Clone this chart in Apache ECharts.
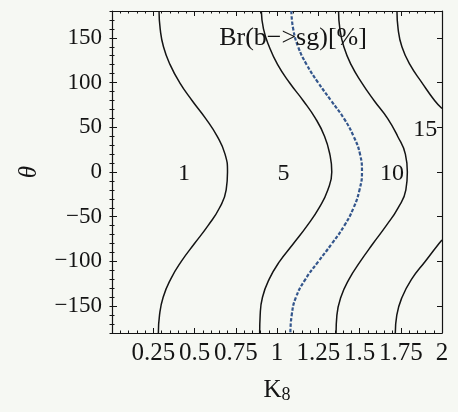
<!DOCTYPE html>
<html>
<head>
<meta charset="utf-8">
<script src="https://cdn.jsdelivr.net/npm/echarts@6/dist/echarts.min.js"></script>
<style>
  html, body { margin: 0; padding: 0; background: #f6f8f3; }
  #chart { width: 458px; height: 412px; }
</style>
</head>
<body>
<div id="chart"></div>
<script>
// Contours of Br(b -> s g) in the (K8, theta) plane, sampled every 20 degrees.
const thetaSteps = [180, 160, 140, 120, 100, 80, 60, 40, 20, 0, -20, -40, -60, -80, -100, -120, -140, -160, -180];

const br1K8  = [0.285, 0.292, 0.312, 0.352, 0.410, 0.485, 0.567, 0.637, 0.685, 0.700, 0.692, 0.652, 0.582, 0.500, 0.420, 0.355, 0.310, 0.288, 0.281];
const br5K8  = [0.905, 0.918, 0.953, 1.004, 1.075, 1.158, 1.233, 1.288, 1.320, 1.332, 1.308, 1.255, 1.183, 1.100, 1.016, 0.952, 0.912, 0.898, 0.895];
const bandK8 = [1.087, 1.098, 1.128, 1.180, 1.249, 1.327, 1.405, 1.464, 1.503, 1.515, 1.500, 1.464, 1.408, 1.333, 1.251, 1.172, 1.115, 1.089, 1.081];
const br10K8 = [1.373, 1.381, 1.405, 1.449, 1.513, 1.588, 1.670, 1.731, 1.778, 1.790, 1.781, 1.734, 1.662, 1.582, 1.505, 1.436, 1.387, 1.363, 1.358];

// The 15% contour leaves the frame on the right, so it is drawn in two pieces.
const br15UpperTheta = [180, 160, 140, 120, 100, 80, 71];
const br15UpperK8    = [1.727, 1.734, 1.757, 1.806, 1.878, 1.955, 2.000];
const br15LowerTheta = [-76, -80, -100, -120, -140, -160, -180];
const br15LowerK8    = [2.000, 1.982, 1.898, 1.815, 1.758, 1.726, 1.717];

// Contour level labels and their positions
const levelLabels = ['1', '5', '10', '15'];
const levelLabelK8 = [0.436, 1.04, 1.697, 1.899];
const levelLabelTheta = [-2, -2, -2, 47];

const xTickLabels = [0.25, 0.5, 0.75, 1, 1.25, 1.5, 1.75, 2];
const yTickLabels = [-150, -100, -50, 0, 50, 100, 150];

const titleText = 'Br(b\u2212>sg)[%]';

const FONT = 'Liberation Serif';
const INK = '#141414';

function pairs(ks, ts) { return ks.map((k, i) => [k, ts[i]]); }

function contour(name, ks, ts, style) {
  return {
    name, type: 'line', xAxisIndex: 0, yAxisIndex: 0,
    data: pairs(ks, ts), smooth: 0.5, showSymbol: false, symbol: 'none',
    lineStyle: Object.assign({ color: INK, width: 1.5 }, style || {}),
    silent: true, animation: false, z: 3
  };
}

const chart = echarts.init(document.getElementById('chart'), null, { renderer: 'canvas' });

const grid = { left: 112, top: 11, right: 16, bottom: 79, containLabel: false };

const axisLine = { show: true, onZero: false, lineStyle: { color: INK, width: 1.2 } };

chart.setOption({
  backgroundColor: '#f6f8f3',
  animation: false,
  grid,
  xAxis: [
    {
      type: 'value', min: 0, max: 2, interval: 0.25, position: 'bottom',
      axisLine, splitLine: { show: false },
      axisTick: { show: true, inside: true, length: 5, lineStyle: { color: INK } },
      minorTick: { show: true, splitNumber: 5, length: 2.5, lineStyle: { color: INK } },
      axisLabel: {
        show: true, margin: 8, color: INK, fontFamily: FONT, fontSize: 25,
        formatter: v => (xTickLabels.some(t => Math.abs(t - v) < 1e-9) ? String(v) : ''),
        showMinLabel: false
      },
      name: 'K{sub|8}', nameLocation: 'middle', nameGap: 44,
      nameTextStyle: {
        color: INK, fontFamily: FONT, fontSize: 25,
        rich: { sub: { fontFamily: FONT, fontSize: 18, color: INK, verticalAlign: 'bottom', padding: [9, 0, 0, 0] } }
      }
    },
    {
      type: 'value', min: 0, max: 2, interval: 0.25, position: 'top',
      axisLine, splitLine: { show: false },
      axisTick: { show: true, inside: true, length: 5, lineStyle: { color: INK } },
      minorTick: { show: true, splitNumber: 5, length: 2.5, lineStyle: { color: INK } },
      axisLabel: { show: false }
    }
  ],
  yAxis: [
    {
      type: 'value', min: -180, max: 180, position: 'left',
      axisLine, splitLine: { show: false },
      axisTick: { show: true, inside: true, length: 5, customValues: yTickLabels, lineStyle: { color: INK } },
      axisLabel: {
        show: true, margin: 10, color: INK, fontFamily: FONT, fontSize: 23,
        customValues: yTickLabels,
        formatter: v => String(v).replace('-', '\u2212')
      },
      name: '\u03b8', nameLocation: 'middle', nameGap: 70, nameRotate: 90,
      nameTextStyle: { color: INK, fontFamily: FONT, fontSize: 25, fontStyle: 'italic' }
    },
    {
      type: 'value', min: -180, max: 180, position: 'right',
      axisLine, splitLine: { show: false },
      axisTick: { show: true, inside: true, length: 5, customValues: yTickLabels, lineStyle: { color: INK } },
      axisLabel: { show: false }
    },
    {
      // minor ticks, left side
      type: 'value', min: -180, max: 180, interval: 10, position: 'left',
      axisLine: { show: false }, splitLine: { show: false },
      axisTick: { show: true, inside: true, length: 2.5, lineStyle: { color: INK } },
      axisLabel: { show: false }
    },
    {
      // minor ticks, right side
      type: 'value', min: -180, max: 180, interval: 10, position: 'right',
      axisLine: { show: false }, splitLine: { show: false },
      axisTick: { show: true, inside: true, length: 2.5, lineStyle: { color: INK } },
      axisLabel: { show: false }
    }
  ],
  series: [
    contour('Br 1%', br1K8, thetaSteps),
    contour('Br 5%', br5K8, thetaSteps),
    contour('band', bandK8, thetaSteps, { color: '#34568c', width: 2.2, type: [3.5, 1.8] }),
    contour('Br 10%', br10K8, thetaSteps),
    contour('Br 15% upper', br15UpperK8, br15UpperTheta),
    contour('Br 15% lower', br15LowerK8, br15LowerTheta),
    {
      name: 'levels', type: 'scatter', xAxisIndex: 0, yAxisIndex: 0,
      data: levelLabels.map((t, i) => ({ value: [levelLabelK8[i], levelLabelTheta[i]], name: t })),
      symbolSize: 0, silent: true, z: 4,
      itemStyle: { opacity: 1 },
      label: {
        show: true, position: 'inside', formatter: p => p.name, opacity: 1,
        color: INK, fontFamily: FONT, fontSize: 24
      }
    }
  ],
  graphic: [
    {
      type: 'text', x: 293, y: 38, z: 5,
      style: {
        text: titleText, fill: INK, font: '26px "Liberation Serif"',
        align: 'center', verticalAlign: 'middle'
      }
    }
  ]
});
</script>
</body>
</html>
